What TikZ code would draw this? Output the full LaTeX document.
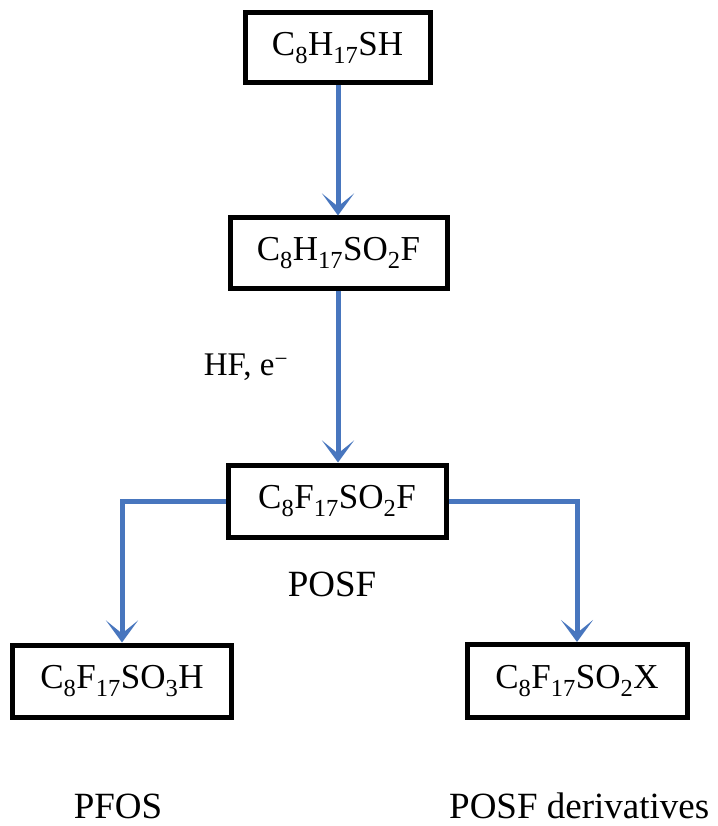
\documentclass[tikz,border=0pt]{standalone}
\usepackage{fontspec}
\setmainfont{Liberation Serif}
\usetikzlibrary{arrows.meta}
\definecolor{flowblue}{RGB}{72,118,190}
\begin{document}
\begin{tikzpicture}[x=1pt,y=-1pt,
  chembox/.style={draw=black,line width=5pt,fill=white,inner sep=0pt,
    font=\fontsize{35}{40}\selectfont},
  label/.style={font=\fontsize{37}{42}\selectfont,inner sep=0pt},
  flow/.style={draw=flowblue,line width=5pt,
    -{Stealth[length=22pt,width=32pt,inset=13pt]}}]
\useasboundingbox (0,0) rectangle (717,826);
\node[chembox,minimum width=185pt,minimum height=70pt] (b1) at (337.5,48) {C\textsubscript{8}H\textsubscript{17}SH};
\node[chembox,minimum width=217pt,minimum height=70pt] (b2) at (338.5,253) {C\textsubscript{8}H\textsubscript{17}SO\textsubscript{2}F};
\node[chembox,minimum width=218pt,minimum height=72pt] (b3) at (337,501) {C\textsubscript{8}F\textsubscript{17}SO\textsubscript{2}F};
\node[chembox,minimum width=219pt,minimum height=72pt] (b4) at (122,681) {C\textsubscript{8}F\textsubscript{17}SO\textsubscript{3}H};
\node[chembox,minimum width=220pt,minimum height=73pt] (b5) at (577,681) {C\textsubscript{8}F\textsubscript{17}SO\textsubscript{2}X};
\node[label,font=\fontsize{33}{38}\selectfont] (hf) at (246,367) {HF, e\textsuperscript{−}};
\node[label] (posf) at (332,584) {POSF};
\node[label,anchor=base] (pfos) at (118,818) {PFOS};
\node[label,anchor=base west] (deriv) at (449,818) {POSF derivatives};
\draw[flow] (b1.south -| 338,0) -- (b2.north -| 338,0);
\draw[flow] (b2.south -| 338,0) -- (b3.north -| 338,0);
\draw[flow] (b3.west) -| (b4.north);
\draw[flow] (b3.east) -| (b5.north);
\end{tikzpicture}
\end{document}
